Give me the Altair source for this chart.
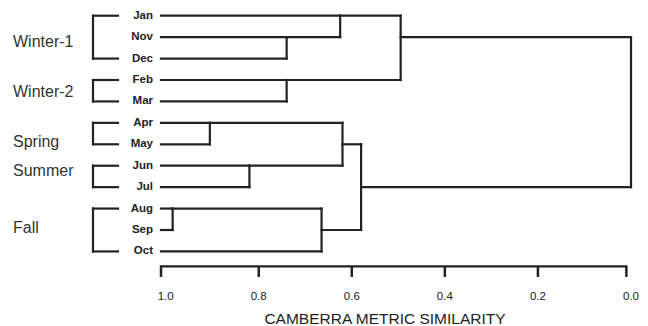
import altair as alt
import pandas as pd

# ---- data ----
leaves = ["Jan", "Nov", "Dec", "Feb", "Mar", "Apr", "May", "Jun", "Jul", "Aug", "Sep", "Oct"]
LEAF_START = 1.01  # leaf lines begin just left of similarity 1.0

# merges (scipy-like ids: leaves 0..11, new clusters 12..)
merge_left = [1, 0, 3, 13, 9, 5, 7, 16, 17, 20, 15]
merge_right = [2, 12, 4, 14, 10, 6, 8, 11, 18, 19, 21]
merge_sim = [0.74, 0.625, 0.74, 0.495, 0.985, 0.905, 0.82, 0.665, 0.62, 0.58, 0.0]
merge_row = [1, 0, 3, 1, 9, 5, 7, 10, 6, 8, 4]  # row where a cluster's outgoing line is drawn

groups = ["Winter-1", "Winter-2", "Spring", "Summer", "Fall"]
group_first = [0, 3, 5, 7, 9]
group_last = [2, 4, 6, 8, 11]
group_label_row = [1.46, 3.79, 6.13, 7.5, 10.14]

tick_values = [1.0, 0.8, 0.6, 0.4, 0.2, 0.0]
tick_labels = ["1.0", "0.8", "0.6", "0.4", "0.2", "0.0"]
inner_ticks = [0.8, 0.6, 0.4, 0.2]
axis_ends = [1.01, 0.01]
x_title = "CAMBERRA METRIC SIMILARITY"

AXIS_ROW = 11.7      # axis line sits just below the last leaf
TICK_END = 12.19     # tick marks hang below the axis line

# ---- build segments ----
pos = {i: i for i in range(len(leaves))}
start = {i: LEAF_START for i in range(len(leaves))}
segs = []
for k, (a, b, s) in enumerate(zip(merge_left, merge_right, merge_sim)):
    cid = len(leaves) + k
    segs.append(dict(x=s, x2=s, y=pos[a], y2=pos[b]))
    segs.append(dict(x=start[a], x2=s, y=pos[a], y2=pos[a]))
    segs.append(dict(x=start[b], x2=s, y=pos[b], y2=pos[b]))
    pos[cid] = merge_row[k]
    start[cid] = s
seg_df = pd.DataFrame(segs)

leaf_df = pd.DataFrame({"name": leaves, "row": list(range(len(leaves))), "x": [LEAF_START] * len(leaves)})
grp_df = pd.DataFrame({"name": groups, "first": group_first, "last": group_last, "lab": group_label_row})
ticks_all = inner_ticks + axis_ends
tick_df = pd.DataFrame({"t": ticks_all, "r": [AXIS_ROW] * len(ticks_all), "r2": [TICK_END] * len(ticks_all)})
lab_df = pd.DataFrame({"v": tick_values, "lab": tick_labels})
axis_df = pd.DataFrame({"a": [axis_ends[0]], "b": [axis_ends[1]], "r": [AXIS_ROW], "r2": [AXIS_ROW]})
title_df = pd.DataFrame({"title": [x_title]})

FONT = "Liberation Sans"
INK = "#222222"
SW = 2.2

H = 321
xscale = alt.Scale(domain=[LEAF_START, 0.0], nice=False, zero=False)
yscale = alt.Scale(domain=[-0.5, 14.48], nice=False, zero=False, reverse=True)

lines = alt.Chart(seg_df).mark_rule(color=INK, strokeWidth=SW, strokeCap="square").encode(
    x=alt.X("x:Q", scale=xscale, axis=None),
    x2="x2:Q",
    y=alt.Y("y:Q", scale=yscale, axis=None),
    y2="y2:Q",
)

leaf_text = alt.Chart(leaf_df).mark_text(
    align="right", baseline="middle", dx=-8, font=FONT, fontSize=11.5, fontWeight="bold", color=INK
).encode(
    x=alt.X("x:Q", scale=xscale, axis=None),
    y=alt.Y("row:Q", scale=yscale, axis=None),
    text="name:N",
)

axis_line = alt.Chart(axis_df).mark_rule(color=INK, strokeWidth=2.2, strokeCap="square").encode(
    x=alt.X("a:Q", scale=xscale, axis=None), x2="b:Q",
    y=alt.Y("r:Q", scale=yscale, axis=None), y2="r2:Q"
)
axis_ticks = alt.Chart(tick_df).mark_rule(color=INK, strokeWidth=2.5).encode(
    x=alt.X("t:Q", scale=xscale, axis=None), x2="t:Q",
    y=alt.Y("r:Q", scale=yscale, axis=None), y2="r2:Q"
)
axis_labels = alt.Chart(lab_df).mark_text(
    align="center", baseline="alphabetic", font=FONT, fontSize=11.5, color=INK
).encode(
    x=alt.X("v:Q", scale=xscale, axis=None), y=alt.value(295), text="lab:N"
)
axis_title = alt.Chart(title_df).mark_text(
    align="center", baseline="alphabetic", font=FONT, fontSize=15.5, color=INK
).encode(
    x=alt.value(224), y=alt.value(319), text="title:N"
)

bracket_v = alt.Chart(grp_df).mark_rule(color=INK, strokeWidth=SW, strokeCap="square").encode(
    x=alt.value(-68), y=alt.Y("first:Q", scale=yscale, axis=None), y2="last:Q"
)
bracket_top = alt.Chart(grp_df).mark_rule(color=INK, strokeWidth=SW, strokeCap="square").encode(
    x=alt.value(-68), x2=alt.value(-43), y=alt.Y("first:Q", scale=yscale, axis=None)
)
bracket_bot = alt.Chart(grp_df).mark_rule(color=INK, strokeWidth=SW, strokeCap="square").encode(
    x=alt.value(-68), x2=alt.value(-43), y=alt.Y("last:Q", scale=yscale, axis=None)
)
grp_text = alt.Chart(grp_df).mark_text(
    align="left", baseline="alphabetic", font=FONT, fontSize=16, color="#333333"
).encode(
    x=alt.value(-148), y=alt.Y("lab:Q", scale=yscale, axis=None), text="name:N"
)

chart = alt.layer(
    lines, leaf_text, axis_line, axis_ticks, axis_labels, axis_title,
    bracket_v, bracket_top, bracket_bot, grp_text
).properties(
    width=470, height=H,
    autosize=alt.AutoSizeParams(type="none"),
    padding={"left": 161, "top": 5, "right": 17, "bottom": 0},
    background="white",
).configure_view(stroke=None)

chart.save("out.html", embed_options={"renderer": "svg", "actions": False})
